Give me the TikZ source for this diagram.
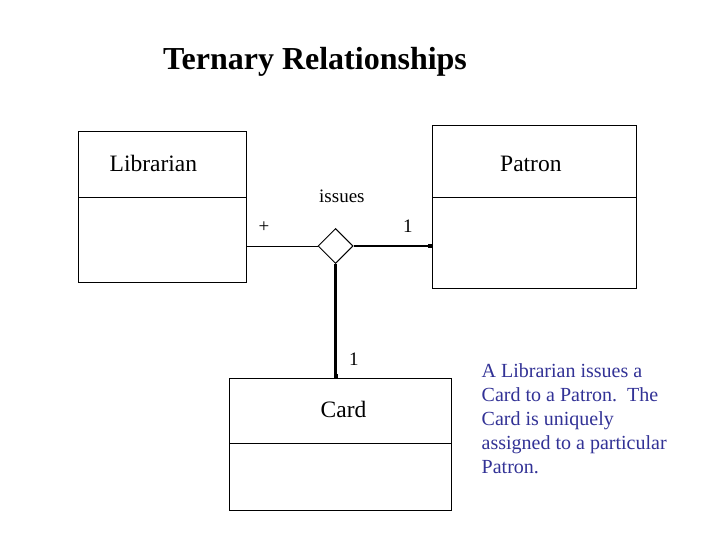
\documentclass[tikz,border=0pt]{standalone}
\usepackage{fontspec}
\setmainfont{Liberation Serif}
\usetikzlibrary{shapes.geometric,arrows.meta}
\definecolor{textblue}{RGB}{50,50,150}
\begin{document}
\begin{tikzpicture}[x=1pt,y=-1pt,
  classbox/.style={draw,line width=1pt,rectangle,inner sep=0pt},
  thin/.style={line width=1pt},
  thick/.style={line width=2.6pt,-{Square[length=4pt,width=4pt]}},
  bigtext/.style={inner sep=0pt,anchor=base west,font=\fontsize{23.5}{28}\selectfont},
  smalltext/.style={inner sep=0pt,anchor=base west,font=\fontsize{19}{23}\selectfont}]
\useasboundingbox (0,0) rectangle (720,540);
\fill[white] (0,0) rectangle (720,540);
% title
\node[inner sep=0pt,anchor=base west,font=\fontsize{32}{38}\selectfont\bfseries] (title) at (163,70) {Ternary Relationships};
% class boxes
\node[classbox,minimum width=168pt,minimum height=150pt] (lib) at (162.5,207) {};
\draw[thin] (78.5,198) -- (246.5,198);
\node[classbox,minimum width=204pt,minimum height=162pt] (pat) at (534,207) {};
\draw[thin] (432,198) -- (636,198);
\node[classbox,minimum width=222pt,minimum height=132pt] (card) at (340,444) {};
\draw[thin] (229,443) -- (451,443);
% names
\node[bigtext] (libname) at (109.5,172) {Librarian};
\node[bigtext] (patname) at (500,172) {Patron};
\node[bigtext] (cardname) at (320.5,417) {Card};
% diamond
\node[draw,line width=1pt,diamond,shape aspect=1,minimum width=35pt,minimum height=35pt,inner sep=0pt] (dia) at (335.5,246) {};
% connectors
\draw[thin] (dia.west) -- (dia.west -| lib.east);
\draw[thick] (dia.east) -- (dia.east -| pat.west);
\draw[thick] (dia.south) -- (dia.south |- card.north);
% labels
\node[smalltext] (issues) at (319,203) {issues};
\node[smalltext] (plus) at (258.5,233) {+};
\node[smalltext] (one1) at (403,233) {1};
\node[smalltext] (one2) at (349,365) {1};
% description
\node[inner sep=0pt,anchor=base west,align=left,text=textblue,font=\fontsize{20}{24}\selectfont] (desc) at (481.5,473.5)
  {A Librarian issues a\\Card to a Patron.\ \ The\\Card is uniquely\\assigned to a particular\\Patron.};
\end{tikzpicture}
\end{document}
